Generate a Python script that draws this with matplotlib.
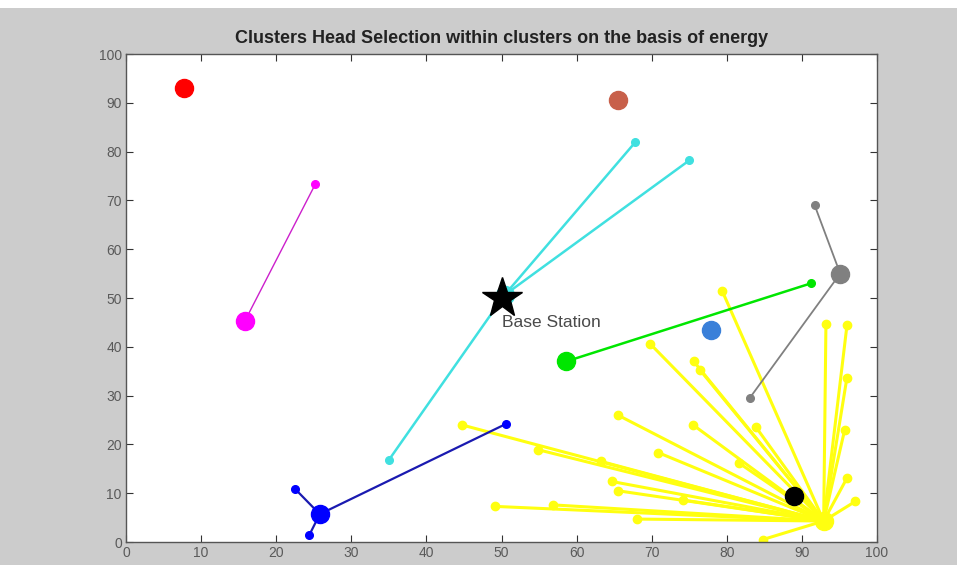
import matplotlib
matplotlib.use("Agg")
import matplotlib.pyplot as plt
from matplotlib.patches import Rectangle

# Sensor field: cluster heads and the member nodes attached to each head
base_station = (50.0, 50.0)

red_head = (7.7, 93.0)
brown_head = (65.5, 90.6)
azure_head = (77.9, 43.5)
black_head = (88.9, 9.4)

magenta_head = (15.8, 45.2)
magenta_x = [25.2]
magenta_y = [73.3]

cyan_head = (50.4, 50.6)
cyan_x = [67.8, 75.0, 35.0]
cyan_y = [81.9, 78.2, 16.8]

blue_head = (25.8, 5.7)
blue_x = [22.5, 24.4, 50.6]
blue_y = [10.9, 1.4, 24.2]

green_head = (58.6, 37.0)
green_x = [91.2]
green_y = [53.0]

gray_head = (95.1, 55.0)
gray_x = [91.7, 83.1]
gray_y = [69.0, 29.6]

yellow_head = (92.9, 4.3)
yellow_x = [44.7, 54.9, 63.3, 49.1, 56.9, 64.7, 65.5, 68.0, 65.5, 70.9,
            69.8, 75.6, 76.4, 79.4, 75.5, 83.9, 81.6, 74.2, 93.2, 96.0,
            96.0, 95.7, 96.0, 97.1, 84.8]
yellow_y = [24.0, 18.9, 16.5, 7.3, 7.6, 12.4, 10.5, 4.7, 26.0, 18.3,
            40.6, 37.0, 35.3, 51.4, 24.0, 23.5, 16.2, 8.6, 44.6, 44.4,
            33.7, 23.0, 13.1, 8.3, 0.5]

title = "Clusters Head Selection within clusters on the basis of energy"
bs_label = "Base Station"
ticks = [0, 10, 20, 30, 40, 50, 60, 70, 80, 90, 100]

plt.rcParams["font.family"] = ["Liberation Sans", "DejaVu Sans"]

fig = plt.figure(figsize=(9.57, 5.65), dpi=100, facecolor="#cccccc")
fig.patches.append(Rectangle((0, 1 - 8 / 565), 1, 8 / 565, transform=fig.transFigure,
                             facecolor="white", edgecolor="none", zorder=0))
ax = fig.add_axes([126 / 957, 1 - 542 / 565, (877 - 126) / 957, (542 - 54) / 565])
ax.set_facecolor("white")


def cluster(head, xs, ys, color, lw, ms_member, line_color=None, z=2):
    lc = line_color or color
    for x, y in zip(xs, ys):
        ax.plot([head[0], x], [head[1], y], color=lc, lw=lw, zorder=z,
                solid_capstyle="round")
    ax.plot(xs, ys, "o", color=color, ms=ms_member, mec=color, zorder=z + 0.5)
    ax.plot([head[0]], [head[1]], "o", color=color, ms=13, mec=color, zorder=z + 1)


cluster(yellow_head, yellow_x, yellow_y, "#ffff10", 2.2, 6, z=1)
cluster(cyan_head, cyan_x, cyan_y, "#40e0e0", 1.8, 5.5, z=3)
cluster(blue_head, blue_x, blue_y, "#0000ff", 1.6, 5.5, line_color="#1a1ab0", z=3)
cluster(green_head, green_x, green_y, "#00e600", 1.8, 5.5, z=3)
cluster(gray_head, gray_x, gray_y, "#808080", 1.3, 5.5, z=3)
cluster(magenta_head, magenta_x, magenta_y, "#ff00ff", 1.0, 5.5, line_color="#cc20cc", z=3)

for head, color in [(red_head, "#ff0000"), (brown_head, "#c8604a"),
                    (azure_head, "#3a80d9"), (black_head, "#000000")]:
    ax.plot([head[0]], [head[1]], "o", color=color, ms=13, mec=color, zorder=5)

ax.plot([base_station[0]], [base_station[1]], marker="*", color="black",
        ms=30, mec="black", zorder=6)
ax.text(base_station[0] + 0.1, base_station[1] - 5.0, bs_label, fontsize=12.5,
        color="#4a4a4a", ha="left", va="center", zorder=7)

ax.set_xlim(0, 100)
ax.set_ylim(0, 100)
ax.set_xticks(ticks)
ax.set_yticks(ticks)
ax.tick_params(direction="in", length=5, width=0.8, colors="#333333",
               labelcolor="#5a5a5a", labelsize=10, top=True, right=True, pad=3)
for s in ax.spines.values():
    s.set_color("#555555")
    s.set_linewidth(1.0)

ax.set_title(title, fontsize=13, fontweight="bold", color="#222222", pad=8)

fig.savefig("out.png", dpi=100, facecolor=fig.get_facecolor())
